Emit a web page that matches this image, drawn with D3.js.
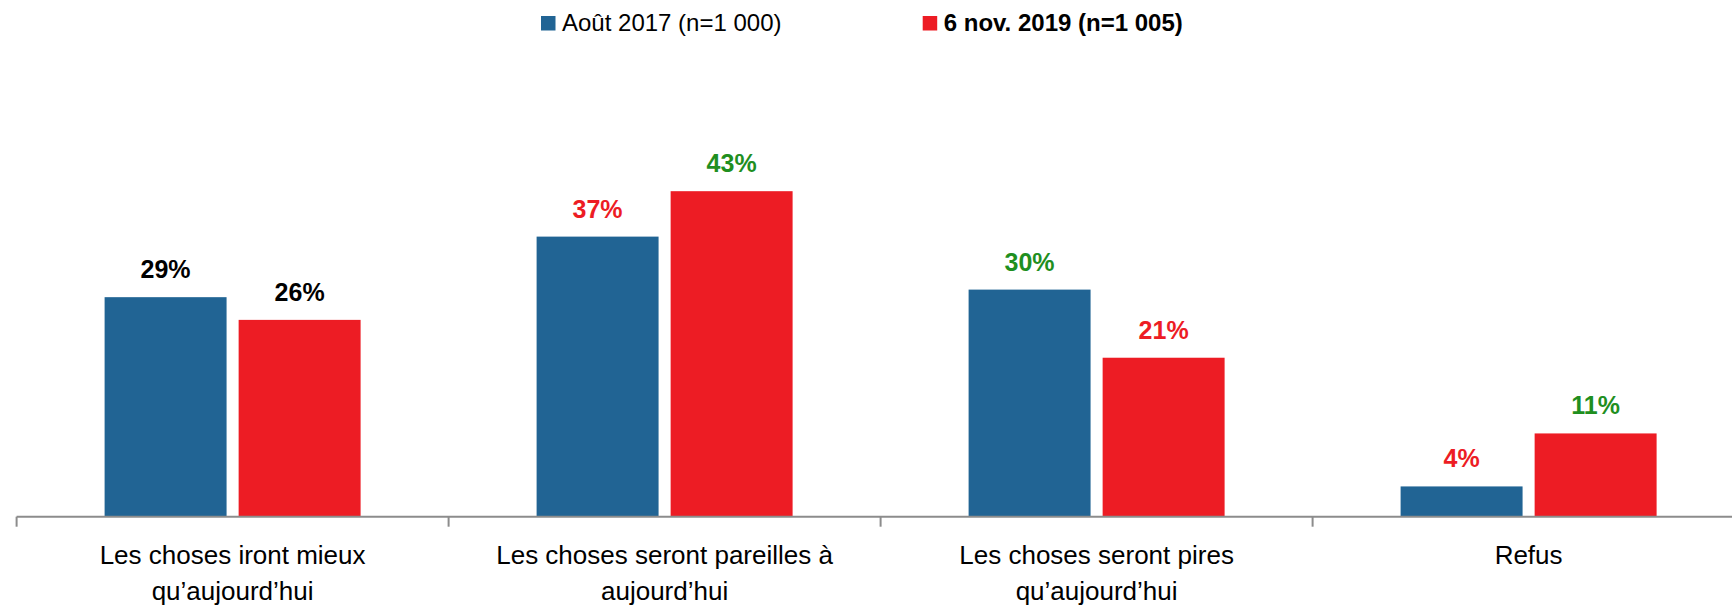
<!DOCTYPE html>
<html>
<head>
<meta charset="utf-8">
<script src="https://d3js.org/d3.v7.min.js"></script>
<style>
    body {
        margin: 0;
        background-color: white;
        font-family: "Liberation Sans", Arial, sans-serif;
    }

    svg {
        display: block;
    }
</style>
</head>
<body>
<svg></svg>
<script>
    // data
    const categories = [
        ["Les choses iront mieux", "qu’aujourd’hui"],
        ["Les choses seront pareilles à", "aujourd’hui"],
        ["Les choses seront pires", "qu’aujourd’hui"],
        ["Refus"]
    ];
    const seriesNames = ["Août 2017 (n=1 000)", "6 nov. 2019 (n=1 005)"];
    const aout2017 = [29, 37, 30, 4];
    const nov2019 = [26, 43, 21, 11];
    // colour of each value label: "same", "down" (red) or "up" (green)
    const labelTone2017 = ["same", "down", "up", "down"];
    const labelTone2019 = ["same", "up", "down", "up"];

    function createVis() {
        let width = 1732;
        let height = 606;
        let svg = d3.select("svg")
            .attr("width", width)
            .attr("height", height);

        const barColors = ["#216494", "#ED1C24"];
        const toneColors = {same: "#000000", down: "#ED1C24", up: "#1F8F1F"};

        let keys = categories.map(c => c.join(" "));
        let data = keys.map((k, i) => ({
            key: k,
            lines: categories[i],
            values: [
                {s: 0, v: aout2017[i], tone: labelTone2017[i]},
                {s: 1, v: nov2019[i], tone: labelTone2019[i]}
            ]
        }));

        let xScale = d3.scaleBand()
            .domain(keys)
            .range([16.6, 16.6 + 4 * 432]);

        let xInner = d3.scaleBand()
            .domain([0, 1])
            .range([88, 344])
            .paddingInner(0.09);

        let yScale = d3.scaleLinear()
            .domain([0, 50])
            .range([516.7, 516.7 - 50 * 7.57]);

        // bars
        let groups = svg.selectAll(".cat")
            .data(data)
            .join("g")
            .attr("class", "cat")
            .attr("transform", d => `translate(${xScale(d.key)},0)`);

        groups.selectAll("rect")
            .data(d => d.values)
            .join("rect")
            .attr("x", d => xInner(d.s))
            .attr("width", xInner.bandwidth())
            .attr("y", d => yScale(d.v))
            .attr("height", d => yScale(0) - yScale(d.v))
            .attr("fill", d => barColors[d.s]);

        groups.selectAll(".val")
            .data(d => d.values)
            .join("text")
            .attr("class", "val")
            .attr("x", d => xInner(d.s) + xInner.bandwidth() / 2)
            .attr("y", d => yScale(d.v) - 19)
            .attr("text-anchor", "middle")
            .attr("font-size", 25)
            .attr("font-weight", "bold")
            .attr("fill", d => toneColors[d.tone])
            .text(d => d.v + "%");

        // axis line with ticks at category boundaries
        svg.append("line")
            .attr("x1", xScale.range()[0])
            .attr("x2", width)
            .attr("y1", yScale(0))
            .attr("y2", yScale(0))
            .attr("stroke", "#8c8c8c")
            .attr("stroke-width", 2);

        svg.selectAll(".tick")
            .data(keys)
            .join("line")
            .attr("class", "tick")
            .attr("x1", d => xScale(d))
            .attr("x2", d => xScale(d))
            .attr("y1", yScale(0))
            .attr("y2", yScale(0) + 10)
            .attr("stroke", "#8c8c8c")
            .attr("stroke-width", 2);

        // category labels
        let catLabels = svg.selectAll(".catlabel")
            .data(data)
            .join("text")
            .attr("class", "catlabel")
            .attr("text-anchor", "middle")
            .attr("font-size", 26)
            .attr("fill", "#000");

        catLabels.selectAll("tspan")
            .data(d => d.lines.map(l => ({l: l, x: xScale(d.key) + xScale.bandwidth() / 2})))
            .join("tspan")
            .attr("x", d => d.x)
            .attr("y", (d, i) => 564 + i * 35.5)
            .text(d => d.l);

        // legend
        let legendX = [541, 922.7];
        let legend = svg.selectAll(".legend")
            .data(seriesNames)
            .join("g")
            .attr("class", "legend")
            .attr("transform", (d, i) => `translate(${legendX[i]},16)`);

        legend.append("rect")
            .attr("width", 14.5)
            .attr("height", 14.5)
            .attr("fill", (d, i) => barColors[i]);

        legend.append("text")
            .attr("x", 21)
            .attr("y", 14.7)
            .attr("font-size", 24)
            .attr("font-weight", (d, i) => i === 1 ? "bold" : "normal")
            .attr("fill", "#000")
            .text(d => d);
    }
    createVis();
</script>
</body>
</html>
